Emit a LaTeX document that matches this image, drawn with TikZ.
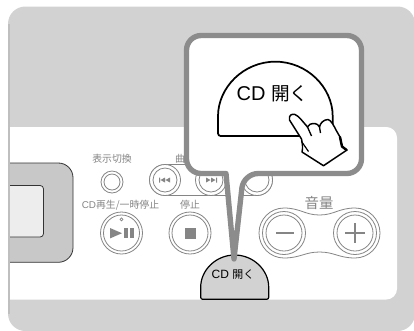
\documentclass[tikz,border=0pt]{standalone}
\usepackage{fontspec}
\setmainfont{Liberation Sans}
\newfontfamily\cjk{Noto Sans CJK JP}
\definecolor{panelgray}{HTML}{D2D2D2}
\definecolor{bezelgray}{HTML}{C8C8C8}
\definecolor{framegray}{HTML}{8C8C8C}
\definecolor{printgray}{HTML}{858585}
\tikzset{
  ring/.style={draw=printgray,line width=0.6pt,fill=white},
  icon/.style={fill=printgray,draw=none},
  printlabel/.style={text=printgray,inner sep=0pt,font=\fontsize{7.4}{8}\selectfont\cjk},
  opencap/.style={draw=black,line join=round}
}
\begin{document}
\begin{tikzpicture}[x=0.75pt,y=-0.75pt]

  \useasboundingbox (0,0) rectangle (414,330);

  % Draw housing and white front plate
  \fill[panelgray,rounded corners=13pt] (8,6.5) rectangle (415,331);
  \fill[black!25] (8,24) rectangle (10,314);
  \fill[white,rounded corners=8pt] (10,127) -- (397,127) -- (397,299.5) -- (10,299.5);

  % Draw display
  \path[fill=bezelgray,draw=black!80,line width=0.6pt,rounded corners=11pt] (10,163) -- (73,163) -- (73,262.3) -- (10,262.3);
  \path[fill=black!7,draw=black!80,line width=0.6pt,rounded corners=2.5pt] (10,185.5) -- (43.5,185.5) -- (43.5,237) -- (10,237);

  % Draw small button
  \draw[ring] (112,182) circle (11);
  \draw[ring] (112,182) circle (8);
  \node[printlabel] (displaylabel) at (112,159) {表示切換};

  % Draw track buttons
  \node[printlabel] (tracklabel) at (180,159) {曲};
  \draw[ring] (165,164.5) -- (257,164.5) arc (270:450:15.5) -- (165,195.5) arc (90:270:15.5) -- cycle;
  \foreach \x in {165,211,257} {
    \draw[ring] (\x,180) circle (15.5);
    \draw[ring] (\x,180) circle (12);
  }
  \fill[icon] (159,177.5) rectangle (160,182.5) (160.5,180) -- (165,177.5) -- (165,182.5) -- cycle (165.5,180) -- (170,177.5) -- (170,182.5) -- cycle;
  \fill[icon] (217,177.5) rectangle (216,182.5) (215.5,180) -- (211,177.5) -- (211,182.5) -- cycle (210.5,180) -- (206,177.5) -- (206,182.5) -- cycle;

  % Draw play and stop buttons
  \foreach \x in {121.5,190} {
    \draw[ring] (\x,233) circle (21);
    \draw[ring] (\x,233) circle (18);
  }
  \node[printlabel] (playlabel) at (120.5,205) {{\rmfamily CD}再生/一時停止};
  \node[printlabel] (stoplabel) at (190,205) {停止};
  \draw[printgray,line width=0.5pt] (121.5,219.3) circle (1.5);
  \fill[icon] (110,228) -- (122,233.2) -- (110,238.4) -- cycle;
  \fill[icon] (124,228) rectangle (128.3,238.4);
  \fill[icon] (130,228) rectangle (134.3,238.4);
  \fill[icon] (184.5,227.5) rectangle (195.5,238.5);

  % Draw volume buttons
  \node[printlabel,font=\fontsize{10.8}{11}\selectfont\cjk] (volumelabel) at (319,203) {音量};
  \draw[ring] (284,208) .. controls (300,208) and (305,215) .. (319.5,215) .. controls (334,215) and (339,208) .. (355,208) arc (270:450:25) .. controls (339,258) and (334,252) .. (319.5,252) .. controls (305,252) and (300,258) .. (284,258) arc (90:270:25) -- cycle;
  \foreach \x in {284,355} {
    \draw[ring] (\x,233) circle (21.5);
    \draw[ring] (\x,233) circle (18);
  }
  \fill[icon] (276,232) rectangle (294,234);
  \fill[icon] (345,232) rectangle (365,234);
  \fill[icon] (354,223) rectangle (356,243);

  % Draw small open button
  \draw[opencap,fill=panelgray,line width=0.9pt,rounded corners=1.5pt] (268.7,289) -- (268.7,299.3) -- (200.7,299.3) -- (200.7,289) arc (180:360:34) -- cycle;
  \node[inner sep=0pt,font=\fontsize{9}{9}\selectfont] (smallopen) at (233,275) {CD {\cjk\fontsize{8.2}{9}\selectfont 開く}};

  % Draw callout
  \draw[draw=framegray,fill=white,line width=4pt,line join=round,rounded corners=11pt] (186.5,35.5) -- (361.5,35.5) -- (361.5,173.5) -- (243.5,173.5) [rounded corners=0pt] -- (234,259) -- (226,173.5) [rounded corners=11pt] -- (186.5,173.5) -- cycle;

  % Draw big open button
  \draw[opencap,fill=white,line width=1.3pt,rounded corners=2pt] (332.7,119) -- (332.7,136) -- (218,136) -- (218,119) arc (180:360:57.35) -- cycle;
  \node[inner sep=0pt,font=\fontsize{15}{15}\selectfont] (bigopen) at (272.5,94) {CD {\cjk\fontsize{14}{15}\selectfont 開く}};

  % Draw hand
  \draw[fill=white,line width=1.1pt,line join=round] (289.5,120) .. controls (288.5,115) and (292,113.5) .. (295,114.5) .. controls (299,116) and (303,122) .. (307.5,127) .. controls (308,124.5) and (311,123.5) .. (315,123.5) .. controls (317,124) and (318.5,125) .. (319.5,127) .. controls (320,123) and (324,119.5) .. (328,119.5) .. controls (331,120) and (334,126) .. (336,130) -- (340,137) -- (342,146.5) -- (347,150) -- (323.5,165.7) -- (302,152) .. controls (303,148) and (302.5,144) .. (301.5,139) -- cycle;
  \draw[line width=1pt] (307.5,127) -- (311.5,136);
  \draw[line width=1pt] (319.5,127) -- (320.5,133);
  \draw[line width=0.9pt] (301.7,141.7) -- (308.5,151.5);
  \draw[line width=1.8pt,line cap=round] (340,137) -- (342,146.5) -- (346.5,150);

\end{tikzpicture}
\end{document}
